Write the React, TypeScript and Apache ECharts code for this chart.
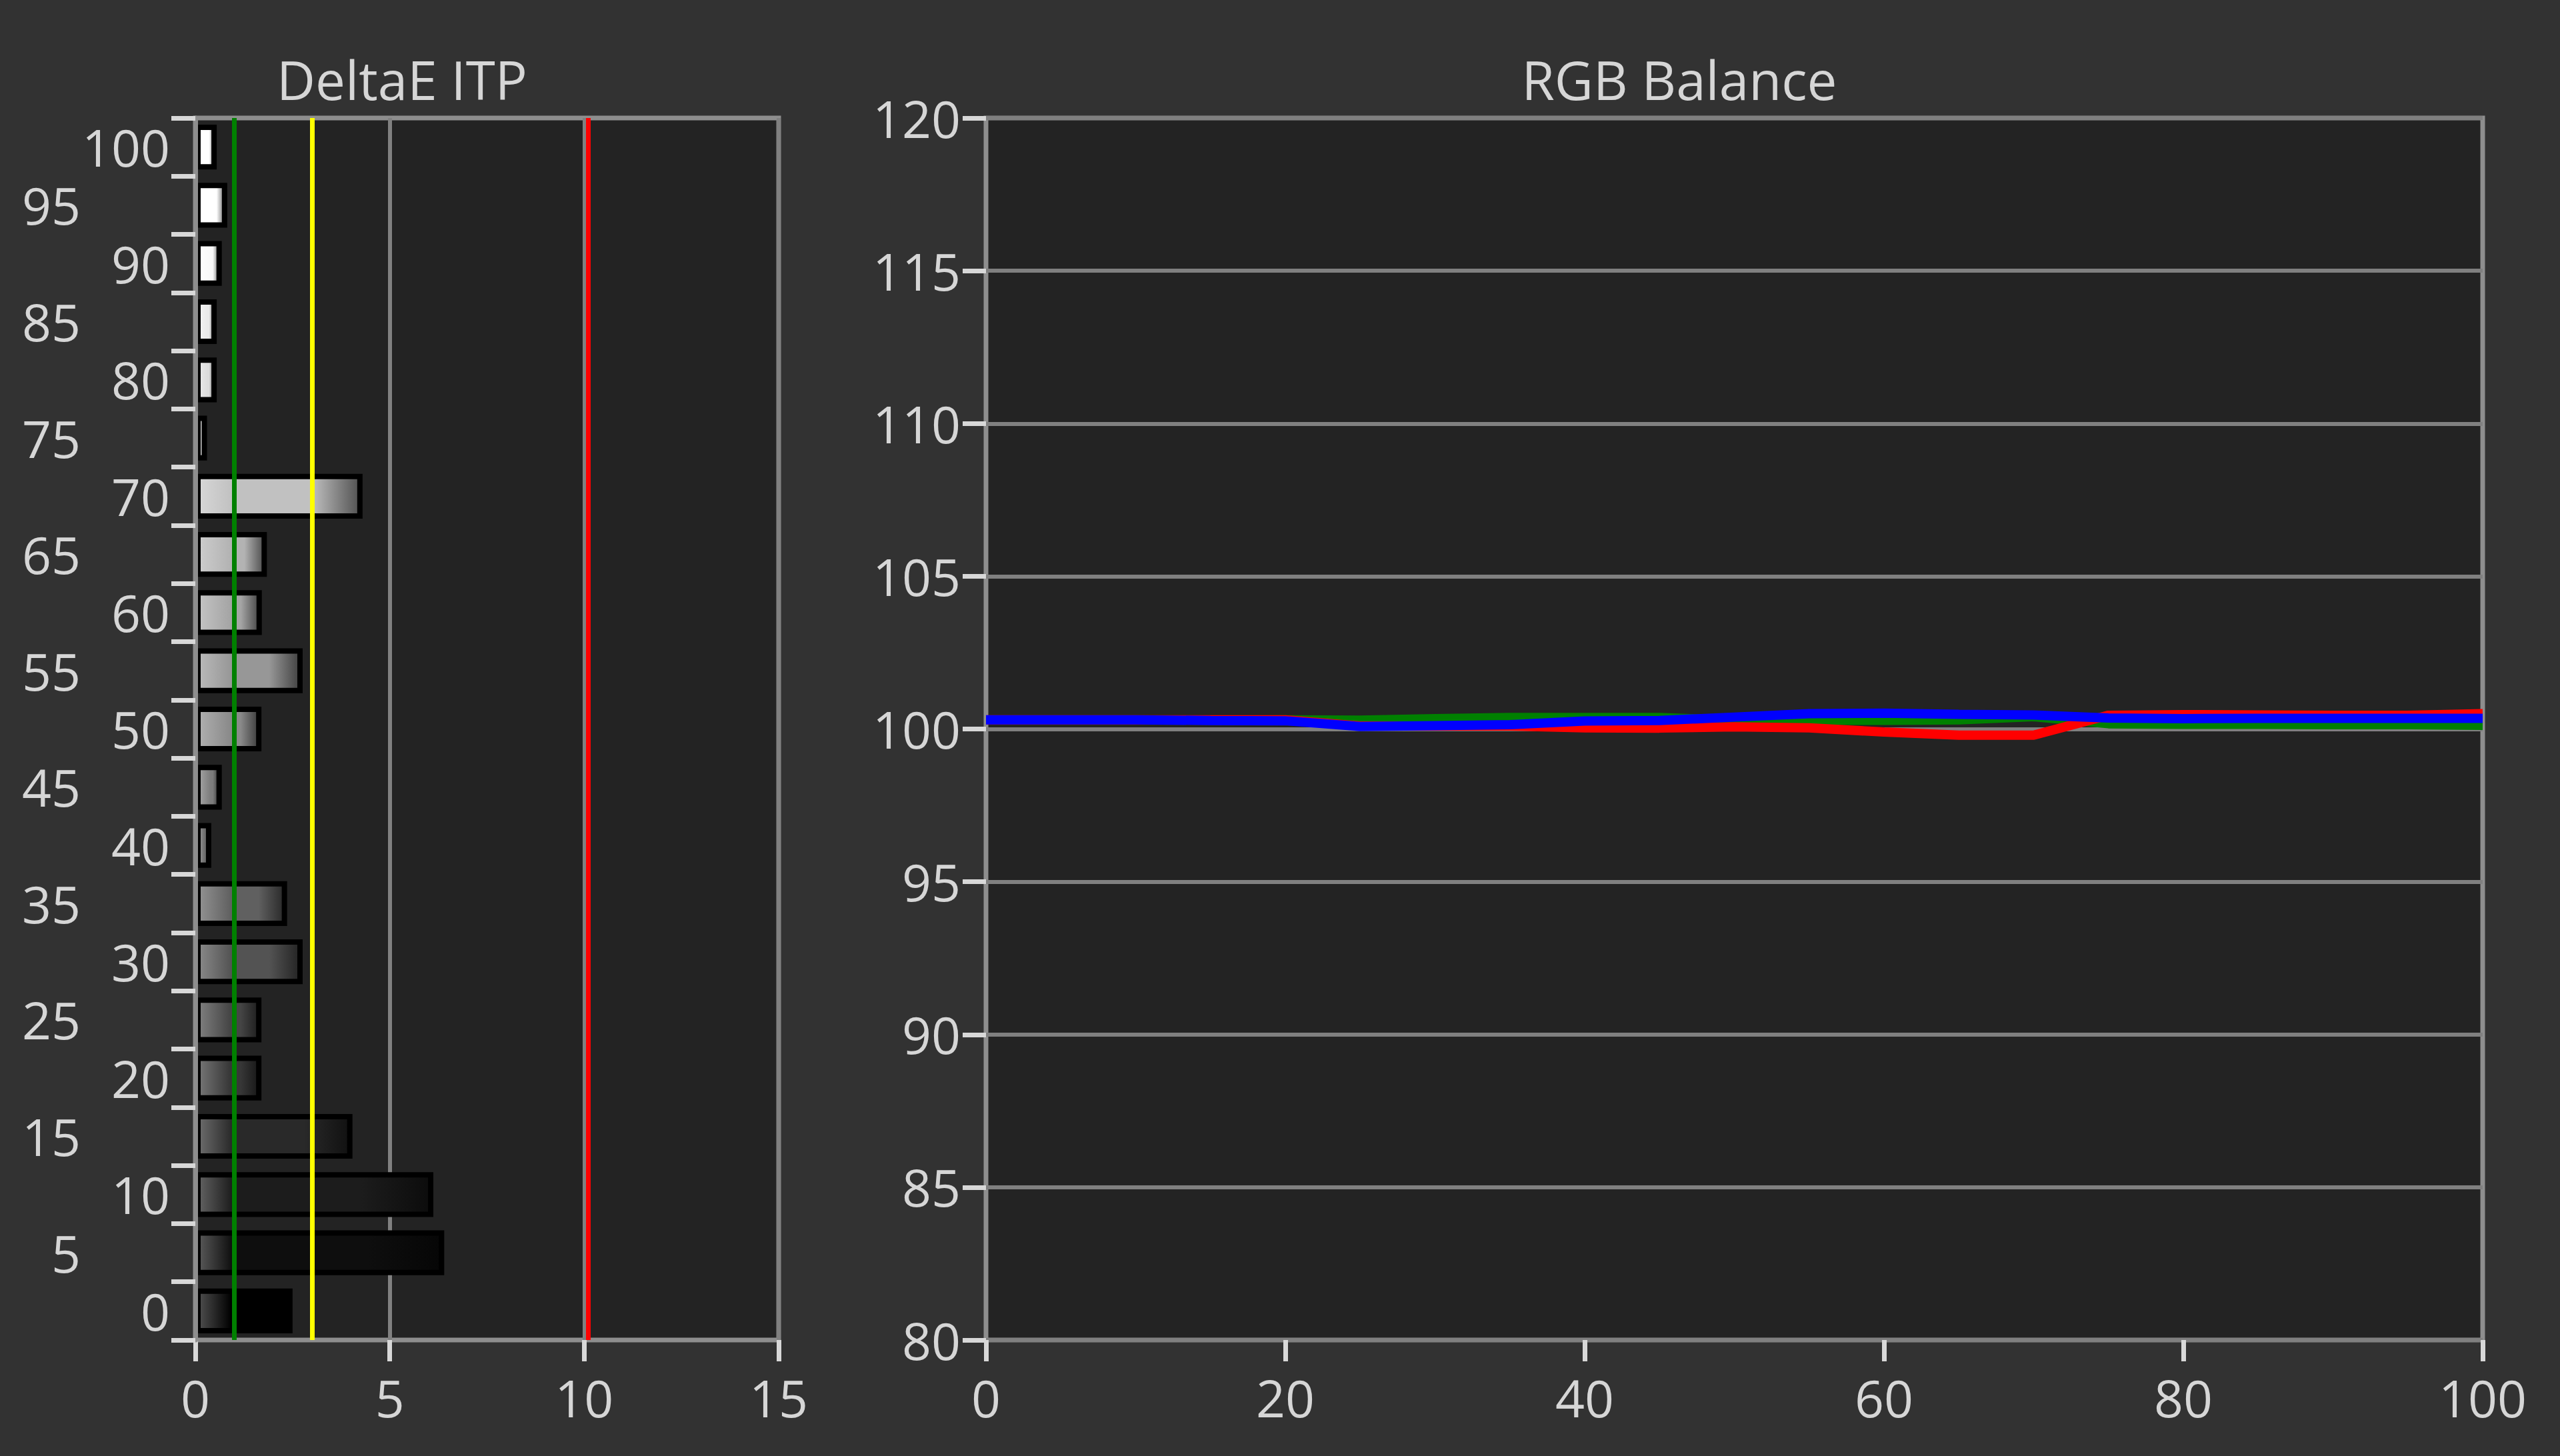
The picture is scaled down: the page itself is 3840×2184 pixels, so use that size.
import React, { useEffect, useRef } from 'react';
import * as echarts from 'echarts';

// ---------- data ----------
const PATCHES = [0, 5, 10, 15, 20, 25, 30, 35, 40, 45, 50, 55, 60, 65, 70, 75, 80, 85, 90, 95, 100];
const DELTA_E = [2.5, 6.4, 6.12, 4.04, 1.7, 1.7, 2.76, 2.36, 0.41, 0.68, 1.7, 2.76, 1.71, 1.84, 4.3, 0.3, 0.55, 0.55, 0.68, 0.82, 0.55];
const DELTA_TICKS = [0, 5, 10, 15];
const LIMIT_GOOD = 1;
const LIMIT_OK = 3;
const LIMIT_BAD = 10.1;

const RGB_X = [0, 5, 10, 15, 20, 25, 30, 35, 40, 45, 50, 55, 60, 65, 70, 75, 80, 85, 90, 95, 100];
const RED = [100.3, 100.3, 100.3, 100.3, 100.3, 100.1, 100.1, 100.1, 100.04, 100.03, 100.07, 100.04, 99.9, 99.8, 99.8, 100.45, 100.47, 100.46, 100.45, 100.45, 100.5];
const GREEN = [100.3, 100.3, 100.3, 100.3, 100.32, 100.31, 100.36, 100.4, 100.4, 100.4, 100.3, 100.26, 100.26, 100.28, 100.38, 100.15, 100.13, 100.13, 100.12, 100.12, 100.1];
const BLUE = [100.3, 100.3, 100.3, 100.28, 100.27, 100.08, 100.11, 100.14, 100.26, 100.28, 100.39, 100.5, 100.52, 100.48, 100.46, 100.36, 100.34, 100.35, 100.35, 100.35, 100.35];

const TITLE_LEFT = 'DeltaE ITP';
const TITLE_RIGHT = 'RGB Balance';

// ---------- style ----------
const FONT = '"Segoe UI", "Open Sans", "Noto Sans", sans-serif';
const TEXT = '#d6d6d6';
const PAGE_BG = '#323232';
const PLOT_BG = '#232323';
const BORDER = '#8e8e8e';
const GRIDLINE = '#808080';
const TICK = '#d8d8d8';
const FS = 77;

const grayHex = (l: number) => {
  const v = Math.max(0, Math.min(255, Math.round(l)));
  const h = v.toString(16).padStart(2, '0');
  return '#' + h + h + h;
};

const barFill = (patch: number, v: number) => {
  const base = Math.min(255, 255 * (patch / 100) * 1.08);
  const hl = Math.min(255, 80 + 0.7 * base);
  const dark = base * 0.42;
  const h = Math.min(0.9 / Math.max(v, 0.01), 0.6);
  return new echarts.graphic.LinearGradient(0, 0, 1, 0, [
    { offset: 0, color: grayHex(hl) },
    { offset: h, color: grayHex(base) },
    { offset: 0.7, color: grayHex(base) },
    { offset: 1, color: grayHex(dark) },
  ]);
};

export default function App() {
  const ref = useRef<HTMLDivElement>(null);
  useEffect(() => {
    if (!ref.current) return;
    const chart = echarts.init(ref.current, null, { renderer: 'svg' });
    const tickStyle = { color: TICK, width: 7 };
    const option: any = {
      animation: false,
      backgroundColor: PAGE_BG,
      textStyle: { fontFamily: FONT },
      graphic: [
        {
          type: 'text', x: 603, y: 118, z: 100,
          style: { text: TITLE_LEFT, fill: TEXT, fontSize: 80, fontFamily: FONT, align: 'center', verticalAlign: 'middle' },
        },
        {
          type: 'text', x: 2519, y: 118, z: 100,
          style: { text: TITLE_RIGHT, fill: TEXT, fontSize: 80, fontFamily: FONT, align: 'center', verticalAlign: 'middle' },
        },
      ],
      grid: [
        { left: 293, top: 177, width: 875, height: 1833, show: true, backgroundColor: PLOT_BG, borderColor: BORDER, borderWidth: 7 },
        { left: 1479, top: 177, width: 2245, height: 1833, show: true, backgroundColor: PLOT_BG, borderColor: BORDER, borderWidth: 7 },
      ],
      xAxis: [
        {
          gridIndex: 0, type: 'value', min: DELTA_TICKS[0], max: DELTA_TICKS[DELTA_TICKS.length - 1], interval: 5,
          axisLine: { show: false },
          axisTick: { show: true, length: 32, lineStyle: tickStyle },
          axisLabel: { color: TEXT, fontSize: FS, fontFamily: FONT, margin: 48 },
          splitLine: { show: true, lineStyle: { color: GRIDLINE, width: 6 } },
        },
        {
          gridIndex: 1, type: 'value', min: 0, max: 100, interval: 20,
          axisLine: { show: false },
          axisTick: { show: true, length: 32, lineStyle: tickStyle },
          axisLabel: { color: TEXT, fontSize: FS, fontFamily: FONT, margin: 48 },
          splitLine: { show: false },
        },
      ],
      yAxis: [
        {
          gridIndex: 0, type: 'category', data: PATCHES.map(String), z: 10,
          axisLine: { show: true, lineStyle: { color: BORDER, width: 7 } },
          axisTick: { show: true, length: 36, interval: 0, lineStyle: tickStyle },
          axisLabel: {
            interval: 0, margin: 38, color: TEXT, fontSize: FS, fontFamily: FONT,
            formatter: (val: string) => (Number(val) % 10 === 0 ? `{n|${val}}` : `{f|${val}}`),
            rich: {
              n: { color: TEXT, fontSize: FS, fontFamily: FONT },
              f: { color: TEXT, fontSize: FS, fontFamily: FONT, padding: [0, 134, 0, 0] },
            },
          },
          splitLine: { show: false },
        },
        {
          gridIndex: 1, type: 'value', min: 80, max: 120, interval: 5,
          axisLine: { show: false },
          axisTick: { show: true, length: 35, lineStyle: tickStyle },
          axisLabel: { color: TEXT, fontSize: FS, fontFamily: FONT, margin: 38 },
          splitLine: { show: true, lineStyle: { color: GRIDLINE, width: 6 } },
        },
      ],
      series: [
        {
          type: 'bar', xAxisIndex: 0, yAxisIndex: 0, barWidth: '77%',
          emphasis: { disabled: true },
          itemStyle: { borderColor: '#000000', borderWidth: 8 },
          data: DELTA_E.map((v, i) => ({ value: v, itemStyle: { color: barFill(PATCHES[i], v) } })),
          markLine: {
            silent: true, symbol: 'none', label: { show: false },
            data: [
              { xAxis: LIMIT_GOOD, lineStyle: { color: '#008000', width: 7, type: 'solid' } },
              { xAxis: LIMIT_OK, lineStyle: { color: '#ffff00', width: 7, type: 'solid' } },
              { xAxis: LIMIT_BAD, lineStyle: { color: '#ff0000', width: 7, type: 'solid' } },
            ],
          },
        },
        {
          type: 'line', xAxisIndex: 1, yAxisIndex: 1, symbol: 'none', z: 3,
          emphasis: { disabled: true },
          lineStyle: { color: '#008000', width: 12 },
          itemStyle: { color: '#008000' },
          data: RGB_X.map((x, i) => [x, GREEN[i]]),
        },
        {
          type: 'line', xAxisIndex: 1, yAxisIndex: 1, symbol: 'none', z: 4,
          emphasis: { disabled: true },
          lineStyle: { color: '#ff0000', width: 14 },
          itemStyle: { color: '#ff0000' },
          data: RGB_X.map((x, i) => [x, RED[i]]),
        },
        {
          type: 'line', xAxisIndex: 1, yAxisIndex: 1, symbol: 'none', z: 5,
          emphasis: { disabled: true },
          lineStyle: { color: '#0000ff', width: 14 },
          itemStyle: { color: '#0000ff' },
          data: RGB_X.map((x, i) => [x, BLUE[i]]),
        },
      ],
    };
    chart.setOption(option);
    return () => chart.dispose();
  }, []);
  return (
    <div
      ref={ref}
      style={{ position: 'fixed', left: 0, top: 0, width: 3840, height: 2184, background: PAGE_BG }}
    />
  );
}
